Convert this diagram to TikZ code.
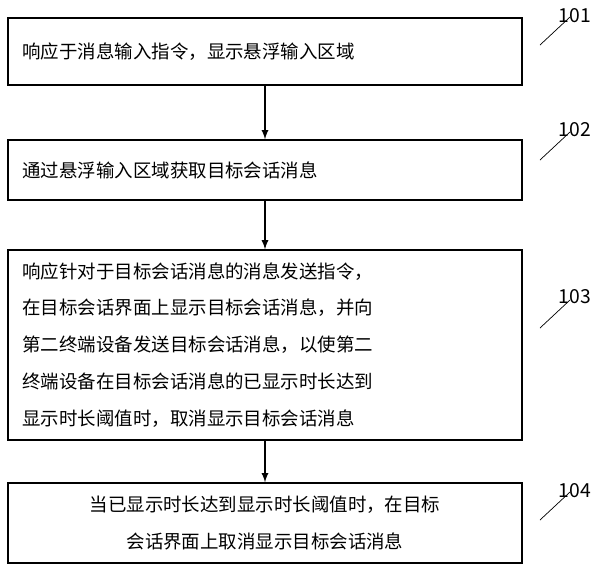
\documentclass[tikz,border=0pt]{standalone}
\usepackage{fontspec}
\setmainfont{Noto Sans CJK SC}
\usetikzlibrary{positioning}
\tikzset{>=latex}
\tikzstyle{stepbox} = [rectangle, draw=black, thick, minimum width=10.28cm, inner sep=0pt, font=\fontsize{10.5pt}{21pt}\selectfont]
\tikzstyle{tag} = [font=\fontsize{11pt}{13pt}\selectfont]

\begin{document}
\begin{tikzpicture}[x=0.02cm, y=-0.02cm]
\useasboundingbox (0, 0) rectangle (600, 583);
\node [stepbox, minimum height=1.34cm] (S1) at (265, 51.5) {\makebox[9.7cm][l]{响应于消息输入指令，显示悬浮输入区域}};
\node [stepbox, minimum height=1.2cm] (S2) at (265, 170) {\makebox[9.7cm][l]{通过悬浮输入区域获取目标会话消息}};
\node [stepbox, minimum height=3.8cm, align=left, text width=9.7cm] (S3) at (265, 345) {响应针对于目标会话消息的消息发送指令，\\在目标会话界面上显示目标会话消息，并向\\第二终端设备发送目标会话消息，以使第二\\终端设备在目标会话消息的已显示时长达到\\显示时长阈值时，取消显示目标会话消息};
\node [stepbox, minimum height=1.6cm, align=center, text width=9.7cm] (S4) at (265, 523) {当已显示时长达到显示时长阈值时，在目标\\会话界面上取消显示目标会话消息};
\draw [-latex, thick] (S1) to (S2);
\draw [-latex, thick] (S2) to (S3);
\draw [-latex, thick] (S3) to (S4);
% step labels
\node [tag] (T1) at (575, 16) {101};
\node [tag] (T2) at (575, 130) {102};
\node [tag] (T3) at (575, 297) {103};
\node [tag] (T4) at (575, 491) {104};
\coordinate (L1) at (540, 45);
\coordinate (L2) at (540, 160);
\coordinate (L3) at (540, 328);
\coordinate (L4) at (540, 520);
\draw (L1) -- ++(30, -28);
\draw (L2) -- ++(30, -28);
\draw (L3) -- ++(30, -28);
\draw (L4) -- ++(30, -28);
\end{tikzpicture}
\end{document}
